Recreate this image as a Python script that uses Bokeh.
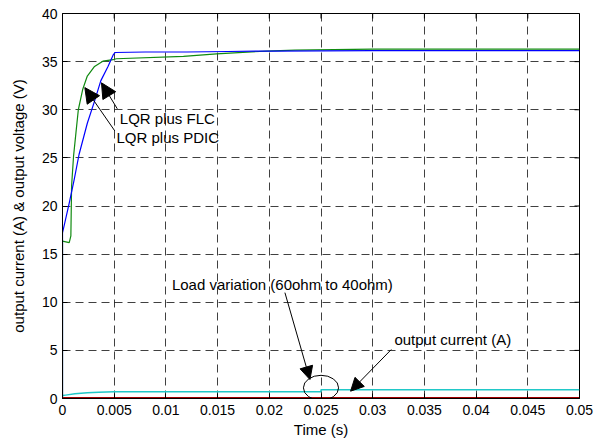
from bokeh.plotting import figure
from bokeh.models import Range1d, FixedTicker, Arrow, NormalHead, Label
from bokeh.embed import file_html
from bokeh.resources import INLINE

# ---- data ----
flc_t = [0.0, 0.0, 0.00065, 0.00113, 0.0016, 0.0024, 0.0031, 0.0037, 0.0044, 0.0049, 0.0051,
         0.008, 0.012, 0.016, 0.02, 0.03, 0.04, 0.05]
flc_v = [0.0, 17.2, 20.3, 22.75, 25.35, 28.6, 30.9, 33.0, 34.5, 35.7, 35.95,
         36.0, 36.0, 36.05, 36.1, 36.15, 36.15, 36.15]

pdic_t = [0.0, 0.0, 0.00065, 0.00081, 0.00088, 0.00107, 0.0013, 0.00153, 0.00195, 0.0024, 0.0031,
          0.0039, 0.0049, 0.0052, 0.0117, 0.0149, 0.0197, 0.0225, 0.03, 0.04, 0.05]
pdic_v = [0.0, 16.35, 16.2, 16.9, 22.1, 25.2, 27.6, 30.0, 32.1, 33.5, 34.5,
          35.05, 35.2, 35.3, 35.55, 35.8, 36.1, 36.2, 36.3, 36.3, 36.3]

cur_t = [0.0, 0.0003, 0.0012, 0.0024, 0.0035, 0.005, 0.025, 0.025, 0.05]
cur_v = [0.3, 0.35, 0.5, 0.6, 0.65, 0.7, 0.7, 0.9, 0.9]

zero_t = [0.0, 0.05]
zero_v = [0.0, 0.0]

x_ticks = [0, 0.005, 0.01, 0.015, 0.02, 0.025, 0.03, 0.035, 0.04, 0.045, 0.05]
x_tick_labels = ["0", "0.005", "0.01", "0.015", "0.02", "0.025", "0.03", "0.035", "0.04", "0.045", "0.05"]
y_ticks = [0, 5, 10, 15, 20, 25, 30, 35, 40]

FONT = "Liberation Sans"
X0, X1, Y0, Y1 = 0.0, 0.05, 0.0, 40.0
FW, FH = 517, 385

p = figure(frame_width=FW, frame_height=FH,
           x_range=Range1d(X0, X1), y_range=Range1d(Y0, Y1),
           output_backend="svg", toolbar_location=None,
           min_border_left=62, min_border_right=20, min_border_top=13, min_border_bottom=36,
           background_fill_color="white", border_fill_color="white")

p.outline_line_color = "black"
p.outline_line_width = 1

p.xaxis.ticker = FixedTicker(ticks=x_ticks)
p.yaxis.ticker = FixedTicker(ticks=y_ticks)
p.xaxis.major_label_overrides = {t: s for t, s in zip(x_ticks, x_tick_labels)}

for ax in (p.xaxis[0], p.yaxis[0]):
    ax.major_tick_in = 5
    ax.major_tick_out = 0
    ax.minor_tick_line_color = None
    ax.axis_line_color = "black"
    ax.major_tick_line_color = "black"
    ax.major_label_text_font = FONT
    ax.major_label_text_font_size = "14px"
    ax.major_label_text_color = "black"
    ax.axis_label_text_font = FONT
    ax.axis_label_text_font_size = "15px"
    ax.axis_label_text_font_style = "normal"
    ax.axis_label_text_color = "black"

p.xaxis.axis_label = "Time (s)"
p.yaxis.axis_label = "output current (A) & output voltage (V)"
p.xaxis.major_label_standoff = 6
p.xaxis.axis_label_standoff = 3
p.yaxis.major_label_standoff = 5
p.yaxis.axis_label_standoff = 12

for g in (p.xgrid[0], p.ygrid[0]):
    g.grid_line_color = "black"
    g.grid_line_alpha = 0.75
    g.grid_line_dash = "8 5"
    g.grid_line_width = 1

# inward tick marks on the top and right edges (5 px long)
dx = (X1 - X0) / FW * 5
dy = (Y1 - Y0) / FH * 5
p.segment(x0=x_ticks, y0=[Y1] * len(x_ticks), x1=x_ticks, y1=[Y1 - dy] * len(x_ticks),
          line_color="black", line_width=1)
p.segment(x0=[X1] * len(y_ticks), y0=y_ticks, x1=[X1 - dx] * len(y_ticks), y1=y_ticks,
          line_color="black", line_width=1)

# curves
p.line(zero_t, zero_v, line_color="#a00000", line_width=3)
p.line(cur_t, cur_v, line_color="#20c8c8", line_width=1.5)
p.line(pdic_t, pdic_v, line_color="#108a10", line_width=1.2)
p.line(flc_t, flc_v, line_color="#0000ff", line_width=1.2)

# ellipse marking load change
p.ellipse(x=0.025, y=1.11, width=0.0034, height=2.6, fill_color=None,
          line_color="black", line_width=1)

# annotations
def arrow(x0, y0, x1, y1, size=13):
    p.add_layout(Arrow(end=NormalHead(size=size, fill_color="black", line_color="black"),
                       x_start=x0, y_start=y0, x_end=x1, y_end=y1,
                       line_color="black", line_width=1))

def label(x, y, txt):
    p.add_layout(Label(x=x, y=y, text=txt, text_font=FONT, text_font_size="15px",
                       text_color="black", text_baseline="middle", text_align="left"))

arrow(0.0053, 30.1, 0.00377, 32.8, 15)
arrow(0.00506, 27.8, 0.00216, 32.3, 15)
label(0.00554, 29.06, "LQR plus FLC")
label(0.00522, 27.1, "LQR plus PDIC")

label(0.01058, 11.84, "Load variation (60ohm to 40ohm)")
arrow(0.02151, 11.0, 0.02393, 1.97, 13)

label(0.0321, 6.13, "output current (A)")
arrow(0.0318, 5.09, 0.02786, 0.76, 13)

open("out.html", "w").write(file_html(p, INLINE))
